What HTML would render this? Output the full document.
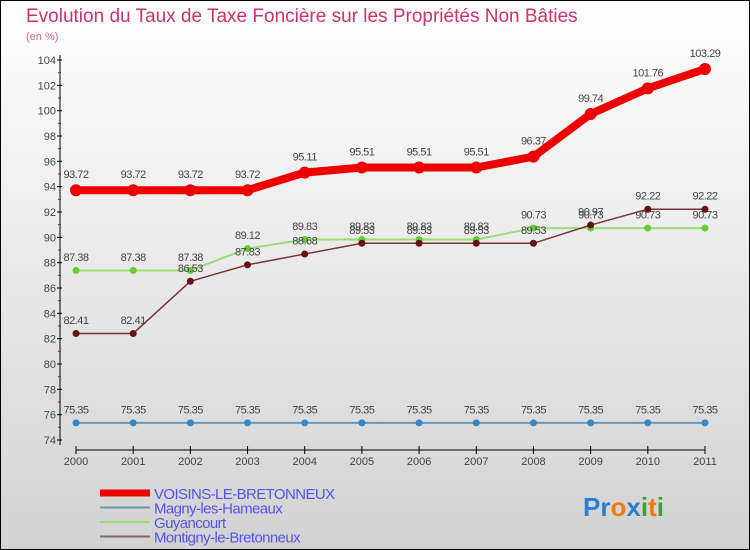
<!DOCTYPE html>
<html><head><meta charset="utf-8"><style>
body{margin:0}
#c{width:750px;height:550px;position:relative;overflow:hidden}
svg text{font-family:"Liberation Sans",sans-serif}
</style></head><body>
<div id="c">
<svg id="s" width="750" height="550" xmlns="http://www.w3.org/2000/svg">
<defs><linearGradient id="bg" x1="0" y1="0" x2="0" y2="1"><stop offset="0" stop-color="#ffffff"/><stop offset="1" stop-color="#d2d2d2"/></linearGradient></defs>
<rect x="0.5" y="0.5" width="749" height="549" fill="url(#bg)" stroke="#000"/>
<text x="26" y="22" font-size="19" fill="#cc3366">Evolution du Taux de Taxe Foncière sur les Propriétés Non Bâties</text>
<text x="26" y="40" font-size="11" fill="#cc6699">(en %)</text>
<g id="axes"></g><g id="series"></g><g id="legend"></g>
<text x="583" y="516" font-size="26" font-weight="bold"><tspan fill="#2a7fd4">Pr</tspan><tspan fill="#f07a10">o</tspan><tspan fill="#2a7fd4">x</tspan><tspan fill="#3aa030">i</tspan><tspan fill="#f07a10">t</tspan><tspan fill="#3aa030">i</tspan></text>
</svg></div>
<script>
const years=[2000,2001,2002,2003,2004,2005,2006,2007,2008,2009,2010,2011];
const voisins=[93.72,93.72,93.72,93.72,95.11,95.51,95.51,95.51,96.37,99.74,101.76,103.29];
const magny=[75.35,75.35,75.35,75.35,75.35,75.35,75.35,75.35,75.35,75.35,75.35,75.35];
const guyancourt=[87.38,87.38,87.38,89.12,89.83,89.83,89.83,89.83,90.73,90.73,90.73,90.73];
const montigny=[82.41,82.41,86.53,87.83,88.68,89.53,89.53,89.53,89.53,90.97,92.22,92.22];
const yTicks=[74,76,78,80,82,84,86,88,90,92,94,96,98,100,102,104];
const NS="http://www.w3.org/2000/svg";
const x=i=>76+i*(705-76)/(years.length-1);
const y=v=>440-(v-74)*(380/30);
function mk(p,t,a){const e=document.createElementNS(NS,t);for(const k in a)e.setAttribute(k,a[k]);p.appendChild(e);return e;}
const ax=document.getElementById('axes');
let l=mk(ax,'line',{x1:60,y1:55,x2:60,y2:445,stroke:'#000'});


l=mk(ax,'line',{x1:76,y1:450,x2:705,y2:450,stroke:'#000'});


yTicks.forEach((v,i)=>{
 mk(ax,'line',{x1:57,y1:y(v),x2:62,y2:y(v),stroke:'#000'});
 if(i<yTicks.length-1)mk(ax,'line',{x1:58,y1:y(v+1),x2:61,y2:y(v+1),stroke:'#e00'});
 const t=mk(ax,'text',{x:56,y:y(v)+4,'font-size':11,'text-anchor':'end',fill:'#444'});
 t.textContent=v;
 
 
});
years.forEach((yr,i)=>{
 mk(ax,'line',{x1:x(i),y1:446,x2:x(i),y2:454,stroke:'#000'});
 const t=mk(ax,'text',{x:x(i),y:465,'font-size':11,'text-anchor':'middle',fill:'#444'});
 t.textContent=yr;
 
 
});
const sg=document.getElementById('series');
function series(vals,name,color,dot,w,r){
 const g=mk(sg,'g',{});
 
 
 const pl=mk(g,'polyline',{points:vals.map((v,i)=>x(i)+','+y(v)).join(' '),fill:'none',stroke:color,'stroke-width':w});
 
 
 vals.forEach((v,i)=>{
  const c=mk(g,'circle',{cx:x(i),cy:y(v),r:r,fill:dot});
  
  
  const t=mk(g,'text',{x:x(i),y:y(v)-(r+6),'font-size':11,'text-anchor':'middle',fill:'#444','letter-spacing':'-0.5'});
  t.textContent=v.toFixed(2);
  
  
 });
}
series(magny,'magny','#6699bb','#3a86c0',2,3.5);
series(guyancourt,'guyancourt','#99dd77','#66cc33',2,3.5);
series(montigny,'montigny','#7a3333','#661111',1.5,3.5);
series(voisins,'voisins','#ee0000','#ee0000',8,6);
const lg=document.getElementById('legend');
[['VOISINS-LE-BRETONNEUX','#ee0000',7],['Magny-les-Hameaux','#6699bb',2],['Guyancourt','#99dd77',2],['Montigny-le-Bretonneux','#886666',2]].forEach((d,i)=>{
 const yy=493+i*14.5;
 const ln=mk(lg,'line',{x1:100,y1:yy,x2:150,y2:yy,stroke:d[1],'stroke-width':d[2]});
 
 
 const t=mk(lg,'text',{x:154,y:yy+6,'font-size':15,fill:'#5555ee','letter-spacing':'-0.6'});
 t.textContent=d[0];
 
 
});
</script>
</body></html>
